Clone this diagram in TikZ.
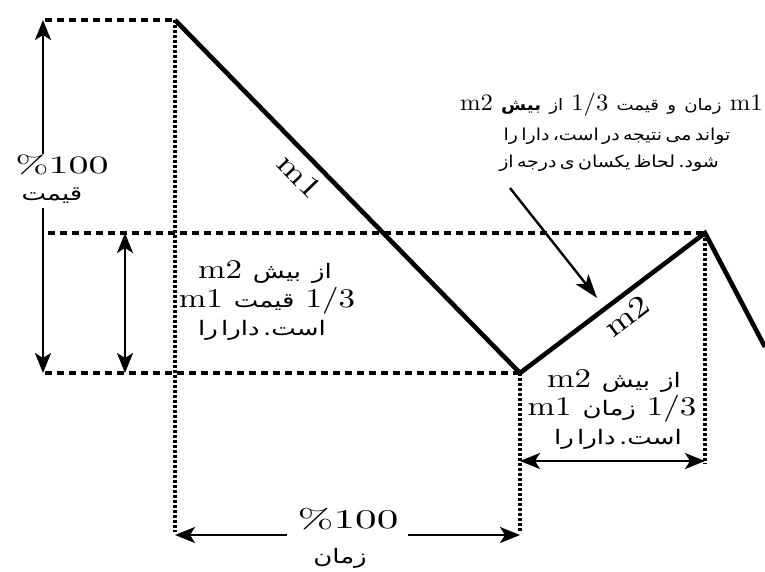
\documentclass[tikz,border=0pt]{standalone}
\usepackage{fontspec}
\usetikzlibrary{arrows.meta}
\TeXXeTstate=1
\newfontfamily\latfont[FakeStretch=1.05]{lmroman10-regular.otf}
\newfontfamily\bigfont[FakeStretch=1.22]{lmroman10-regular.otf}
\newfontfamily\widefont[FakeStretch=1.6]{lmroman10-regular.otf}
\newfontfamily\fafont[Script=Arabic,FakeStretch=1.15]{DejaVu Sans}
\newfontfamily\fafontw[Script=Arabic,FakeStretch=1.3]{DejaVu Sans}
\newfontfamily\fafontb[Script=Arabic,FakeStretch=1.15]{DejaVu Sans Bold}
\newcommand\fw[1]{{\fafont\fontsize{16.5}{29}\selectfont\beginR #1\endR}}
\newcommand\fws[1]{{\fafont\fontsize{15.8}{29}\selectfont\beginR #1\endR}}
\newcommand\fwb[1]{{\fafontb\fontsize{15.8}{29}\selectfont\beginR #1\endR}}
\newcommand\fl[1]{{\fafontw\fontsize{20}{29}\selectfont\beginR #1\endR}}
\begin{document}
\begin{tikzpicture}[x=1pt,y=-1pt,
  trace/.style={line width=4.6pt, line join=miter},
  hdash/.style={line width=3.2pt, dash pattern=on 7pt off 5pt},
  vdot/.style={line width=4pt, dash pattern=on 3pt off 2pt},
  dimarr/.style={line width=2.2pt, -{Stealth[length=20pt,width=16pt,inset=5pt]}},
  dimarrb/.style={line width=2.2pt, {Stealth[length=20pt,width=16pt,inset=5pt]}-{Stealth[length=20pt,width=16pt,inset=5pt]}},
  pointer/.style={line width=2.4pt, -{Stealth[length=24pt,width=16pt,inset=6pt]}},
  lbl/.style={inner sep=0pt, font=\latfont\fontsize{25}{29}\selectfont},
  blbl/.style={inner sep=0pt, font=\bigfont\fontsize{27}{29}\selectfont},
  wlbl/.style={inner sep=0pt, font=\widefont\fontsize{25}{29}\selectfont},
  fa/.style={inner sep=0pt}]
\useasboundingbox (0,0) rectangle (765,571);
% main points
\coordinate (A) at (175,20);
\coordinate (B) at (520,373);
\coordinate (C) at (705,233);
\coordinate (D) at (765,347);
\coordinate (TL) at (45,20);
\coordinate (ML) at (48,233);
\coordinate (BL) at (45,373);
\coordinate (A0) at (175,532);
\coordinate (B0) at (520,532);
\coordinate (C0) at (705,464);
% guides
\draw[hdash] (TL) -- (A);
\draw[hdash] (ML) -- (C);
\draw[hdash] (BL) -- (B);
\draw[vdot] (A) -- (A0);
\draw[vdot] (B) -- (B0);
\draw[vdot] (C) -- (C0);
% price curve
\draw[trace] (A) -- (B) -- (C) -- (D);
% left dimension
\node[wlbl] (p100) at (62,165) {\%100};
\node[fa] (qym) at (52,196) {\fl{قیمت}};
\coordinate (lt) at (43,20);
\coordinate (lb) at (43,373);
\coordinate (lm1) at (43,154);
\coordinate (lm2) at (43,208);
\draw[dimarr] (lm1) -- (lt);
\draw[dimarr] (lm2) -- (lb);
\coordinate (st) at (125,233);
\coordinate (sb) at (125,373);
\draw[dimarrb] (st) -- (sb);
% bottom dimension
\node[wlbl,font=\widefont\fontsize{27}{29}\selectfont] (t100) at (348,519) {\%100};
\node[fa] (zmn) at (340,558) {\fl{زمان}};
\coordinate (bl) at (175,535);
\coordinate (br) at (520,535);
\coordinate (bm1) at (287,535);
\coordinate (bm2) at (408,535);
\draw[dimarr] (bm1) -- (bl);
\draw[dimarr] (bm2) -- (br);
\coordinate (rl) at (520,461);
\coordinate (rr) at (705,461);
\draw[dimarrb] (rl) -- (rr);
% line labels
\node[blbl, font=\bigfont\fontsize{30}{30}\selectfont, rotate=-46] (m1) at (300,176) {m1};
\node[blbl, font=\bigfont\fontsize{30}{30}\selectfont, rotate=37] (m2) at (627,316) {m2};
% top right note
\node[lbl, font=\latfont\fontsize{23.5}{29}\selectfont, anchor=base east] (n1) at (763,110) {m2 \fwb{بیش} \fws{از} 1/3 \fws{قیمت} \fws{و} \fws{زمان} m1};
\node[fa, anchor=base] (n2) at (617,140) {\fw{را} \fw{دارا} \fw{است،} \fw{در} \fw{نتیجه} \fw{می} \fw{تواند}};
\node[fa, anchor=base] (n3) at (609,167) {\fw{از} \fw{درجه} \fw{ی} \fw{یکسان} \fw{لحاظ} \fw{شود.}};
\coordinate (ps) at (510,188);
\coordinate (pe) at (597,298);
\draw[pointer] (ps) -- (pe);
% middle note
\node[blbl, anchor=base] (a1) at (265,278) {m2 \fl{بیش} \fl{از}};
\node[blbl, anchor=base] (a2) at (267,307) {m1 \fl{قیمت} 1/3};
\node[fa, anchor=base] (a3) at (262,335) {\fl{را} \fl{دارا} \fl{است.}};
% bottom right note
\node[blbl, anchor=base] (b1) at (614,387) {m2 \fl{بیش} \fl{از}};
\node[blbl, anchor=base] (b2) at (612,415) {m1 \fl{زمان} 1/3};
\node[fa, anchor=base] (b3) at (618,444) {\fl{را} \fl{دارا} \fl{است.}};
\end{tikzpicture}
\end{document}
